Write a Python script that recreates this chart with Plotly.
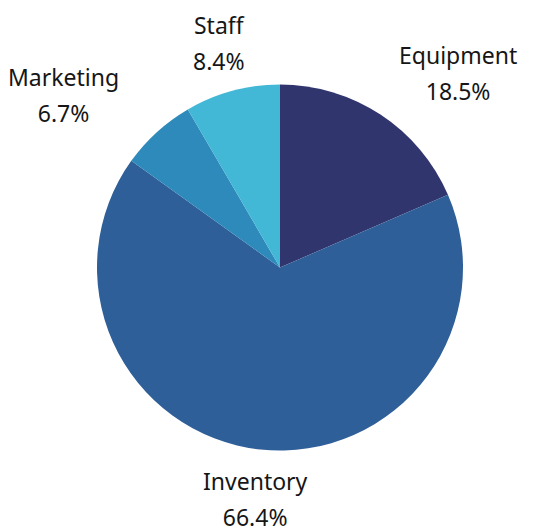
import math
import plotly.graph_objects as go

categories = ["Equipment", "Inventory", "Marketing", "Staff"]
shares = [18.5, 66.4, 6.7, 8.4]
colors = ["#31356e", "#2f5f98", "#2e8aba", "#42b7d6"]

W, H = 536, 531
# pie placement in pixels: centre and radius
CX, CY, R = 280, 267.5, 183
LABEL_DIST = 233      # distance from centre to the label block
NUDGE = {"left": -11, "right": -2, "center": 0}  # horizontal fine-tuning per anchor
TEXT_PX = 23          # glyph size of the labels
LINE_BASE = 27.7      # base size that sets the 36px line spacing (1.3em)

fig = go.Figure(
    go.Pie(
        labels=categories,
        values=shares,
        sort=False,
        direction="clockwise",
        rotation=0,
        marker=dict(colors=colors, line=dict(width=0)),
        textinfo="none",
        hoverinfo="skip",
        domain=dict(
            x=[(CX - R) / W, (CX + R) / W],
            y=[(H - CY - R) / H, (H - CY + R) / H],
        ),
        showlegend=False,
    )
)

# outside labels: name above, percentage below, placed at each slice's mid-angle
total = sum(shares)
cum = 0.0
font = dict(family="Noto Sans", size=LINE_BASE, color="#161616")
for name, val in zip(categories, shares):
    mid = (cum + val / 2) / total * 2 * math.pi
    cum += val
    s, c = math.sin(mid), math.cos(mid)
    px = CX + LABEL_DIST * s
    py = CY - LABEL_DIST * c
    if s > 0.5:
        anchor = "left"
    elif s < -0.5:
        anchor = "right"
    else:
        anchor = "center"
    pct = f"{val / total * 100:.1f}%"
    span = f"<span style='font-size:{TEXT_PX}px'>"
    fig.add_annotation(
        x=px / W, y=1 - py / H, xref="paper", yref="paper",
        text=f"{span}{name}</span><br>{span}{pct}</span>",
        showarrow=False, xanchor=anchor, yanchor="middle", align="center",
        xshift=NUDGE[anchor], font=font,
    )

fig.update_layout(
    width=W,
    height=H,
    margin=dict(l=0, r=0, t=0, b=0),
    paper_bgcolor="white",
    plot_bgcolor="white",
)

fig.write_html("out.html")
